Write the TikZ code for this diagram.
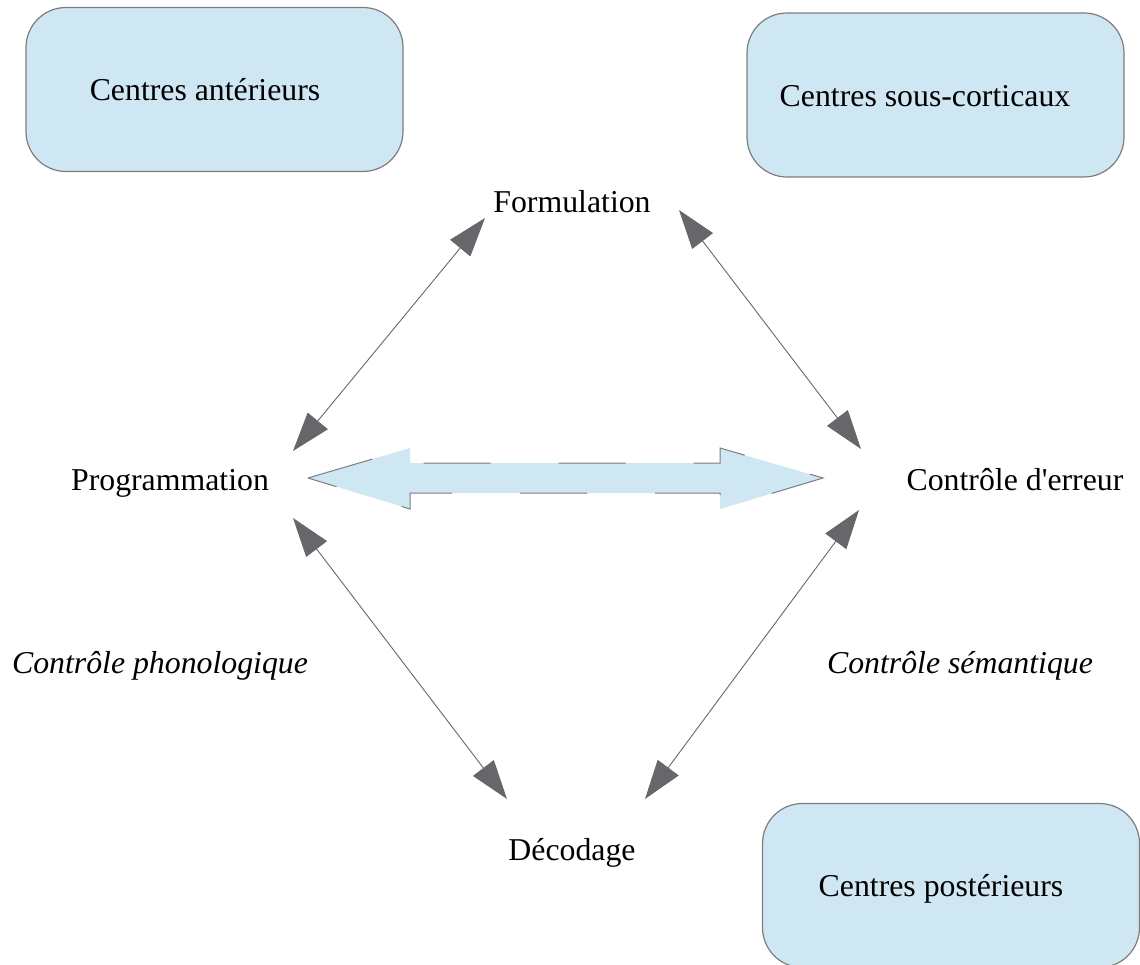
\documentclass[tikz,border=0pt]{standalone}
\usepackage{fontspec}
\setmainfont{Liberation Serif}
\usetikzlibrary{arrows.meta}

\definecolor{boxblue}{RGB}{207,230,243}
\definecolor{headgray}{RGB}{102,103,106}
\definecolor{edgegray}{RGB}{125,125,128}

\tikzset{
  centre/.style={draw=edgegray, fill=boxblue, line width=1.2pt, rounded corners=40pt,
    minimum width=377pt, minimum height=164pt, inner sep=0pt},
  lbl/.style={font=\fontsize{31.8}{38}\selectfont, inner sep=0pt, anchor=base},
  ital/.style={lbl, font=\fontsize{31.8}{38}\selectfont\itshape},
  link/.style={draw=headgray, line width=0.9pt,
    {Triangle[length=39pt,width=26pt]}-{Triangle[length=39pt,width=26pt]}}
}

\begin{document}
\begin{tikzpicture}[x=1pt,y=-1pt]
  \useasboundingbox (0,0) rectangle (1140,965);
  \clip (0,0) rectangle (1140,965);

  % boxes
  \node[centre] (ant) at (214.5,89.5) {};
  \node[centre] (sous) at (935.5,95) {};
  \node[centre] (post) at (951,885.5) {};
  \node[lbl] (antlbl) at (205,101) {Centres antérieurs};
  \node[lbl] (souslbl) at (925,107) {Centres sous-corticaux};
  \node[lbl] (postlbl) at (941,896) {Centres postérieurs};

  % labels
  \node[lbl] (form) at (572,213) {Formulation};
  \node[lbl] (prog) at (170,490) {Programmation};
  \node[lbl] (err) at (1015,490) {Contrôle d\textquotesingle erreur};
  \node[lbl] (dec) at (572,860) {Décodage};
  \node[ital] (phon) at (160,673) {Contrôle phonologique};
  \node[ital] (sem) at (960,673) {Contrôle sémantique};

  % arrow tips
  \coordinate (formL) at (485,218);
  \coordinate (progT) at (293,451);
  \coordinate (formR) at (679,210);
  \coordinate (errT) at (861,449);
  \coordinate (progB) at (293,518);
  \coordinate (decL) at (507,799);
  \coordinate (errB) at (859,510);
  \coordinate (decR) at (645,799);

  \draw[link] (formL) -- (progT);
  \draw[link] (formR) -- (errT);
  \draw[link] (progB) -- (decL);
  \draw[link] (errB) -- (decR);

  % big double arrow
  \filldraw[fill=boxblue, draw=edgegray, line width=1pt, dash pattern=on 67pt off 68pt]
    (308,478) -- (410,448) -- (410,463) -- (720,463) -- (720,448) -- (823,478)
    -- (720,509) -- (720,493) -- (410,493) -- (410,509) -- cycle;
\end{tikzpicture}
\end{document}
